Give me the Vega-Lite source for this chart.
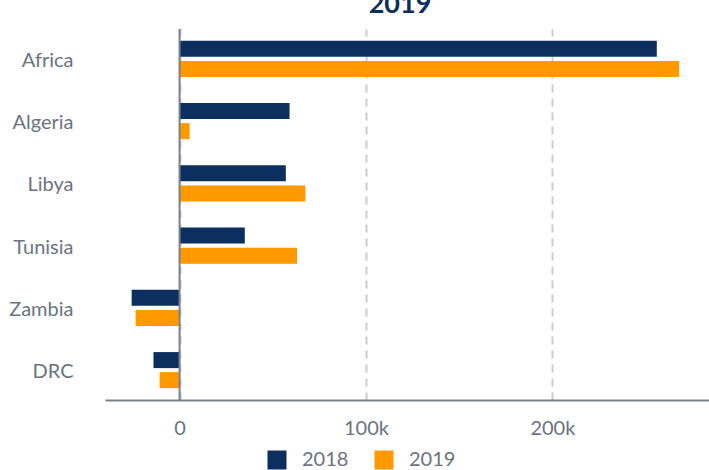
{
  "$schema": "https://vega.github.io/schema/vega-lite/v6.json",
  "autosize": {"type": "none"},
  "padding": {"left": 105, "top": 29, "right": 0, "bottom": 70},
  "width": 604,
  "height": 371,
  "background": "white",
  "title": {"text": "2019", "fontSize": 27, "font": "Lato", "fontWeight": "bold", "color": "#0c2f5f", "offset": 9, "anchor": "middle", "dx": -7},
  "config": {"view": {"stroke": null}, "font": "Lato"},
  "data": {"values": [
    {"region": "Africa", "year": "2018", "value": 256000},
    {"region": "Africa", "year": "2019", "value": 268000},
    {"region": "Algeria", "year": "2018", "value": 59000},
    {"region": "Algeria", "year": "2019", "value": 5400},
    {"region": "Libya", "year": "2018", "value": 57000},
    {"region": "Libya", "year": "2019", "value": 67500},
    {"region": "Tunisia", "year": "2018", "value": 35000},
    {"region": "Tunisia", "year": "2019", "value": 63000},
    {"region": "Zambia", "year": "2018", "value": -25700},
    {"region": "Zambia", "year": "2019", "value": -23600},
    {"region": "DRC", "year": "2018", "value": -14000},
    {"region": "DRC", "year": "2019", "value": -10700}
  ]},
  "layer": [
    {
      "mark": {"type": "bar"},
      "encoding": {
        "y": {"field": "region", "type": "nominal", "sort": ["Africa", "Algeria", "Libya", "Tunisia", "Zambia", "DRC"],
          "scale": {"paddingInner": 0.42, "paddingOuter": 0.19},
          "axis": {"title": null, "domain": false, "ticks": false, "labelPadding": 32, "labelFontSize": 20, "labelColor": "#6b7380", "labelFont": "Lato", "labelOffset": 2}},
        "yOffset": {"field": "year", "type": "nominal", "scale": {"paddingInner": 0.2, "paddingOuter": 0}},
        "x": {"field": "value", "type": "quantitative",
          "scale": {"domain": [-40000, 284000], "nice": false, "zero": false},
          "axis": {"title": null, "values": [0, 100000, 200000], "labelExpr": "datum.value == 0 ? '0' : datum.value/1000 + 'k'", "labelFontSize": 20, "labelColor": "#6b7380", "labelFont": "Lato", "labelPadding": 18, "ticks": false, "domainColor": "#7a8089", "domainWidth": 2, "grid": true, "gridDash": [8, 6], "gridColor": "#cccccc", "gridWidth": 2}},
        "color": {"field": "year", "type": "nominal", "scale": {"domain": ["2018", "2019"], "range": ["#0c2f5f", "#ff9900"]},
          "legend": {"title": null, "orient": "none", "legendX": 162, "legendY": 421, "direction": "horizontal", "symbolType": "square", "symbolSize": 361, "labelFontSize": 20, "labelColor": "#6b7380", "labelFont": "Lato", "columnPadding": 25, "labelOffset": 15, "symbolStrokeWidth": 0}}
      }
    },
    {
      "data": {"values": [{"x": 0}]},
      "mark": {"type": "rule", "color": "#7a8089", "strokeWidth": 2},
      "encoding": {"x": {"field": "x", "type": "quantitative"}}
    }
  ]
}
